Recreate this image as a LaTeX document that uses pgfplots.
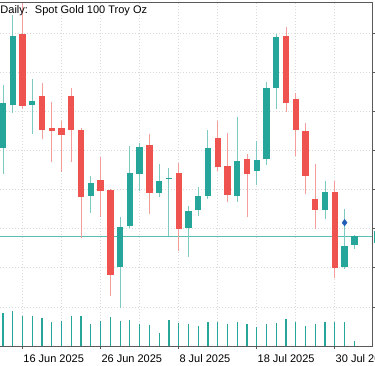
\documentclass[border=0pt]{standalone}
\usepackage{fontspec}
\setmainfont{Liberation Sans}
\usepackage{pgfplots}
\pgfplotsset{compat=1.18}
\usepackage{pgfplotstable}
\definecolor{gcol}{HTML}{26A69A}
\definecolor{rcol}{HTML}{EF5350}
\definecolor{gwick}{HTML}{7CCAC2}
\definecolor{rwick}{HTML}{F49E9C}
\definecolor{bidcol}{HTML}{5CBDB3}
\definecolor{gridcol}{HTML}{D9D9D9}
\definecolor{framecol}{HTML}{5A5A5A}
\definecolor{markblue}{HTML}{1F5FB8}

\pgfplotstableread{
i o h l c
0 3376.83 3416.92 3359.81 3405.22
1 3404.13 3461.69 3398.82 3448.26
3 3404.32 3420.76 3385.59 3406.88
9 3346.13 3358.73 3334.87 3354.06
12 3300.72 3332.70 3274.12 3326.30
13 3326.75 3378.10 3325.66 3360.45
14 3360.01 3380.02 3349.33 3377.46
16 3347.66 3366.21 3345.49 3355.53
17 3356.81 3363.65 3320.36 3357.64
19 3325.66 3339.73 3306.74 3336.34
20 3336.98 3351.88 3333.15 3345.94
21 3346.13 3388.14 3343.83 3376.44
24 3346.13 3396.27 3341.91 3368.32
26 3361.92 3381.11 3352.97 3368.96
27 3369.60 3419.03 3365.76 3414.81
28 3415.19 3449.34 3401.57 3447.43
33 3336.98 3355.72 3331.04 3348.30
35 3300.72 3337.43 3299.06 3313.96
36 3314.60 3321.00 3312.04 3320.36
}\greendata

\pgfplotstableread{
i o h l c
2 3449.34 3469.36 3401.38 3403.49
4 3410.08 3418.01 3382.20 3388.34
5 3389.61 3406.24 3367.87 3387.70
6 3389.61 3393.90 3361.48 3384.75
7 3410.08 3414.81 3367.87 3388.34
8 3387.95 3389.61 3319.08 3345.11
10 3356.17 3371.07 3332.70 3349.33
11 3349.77 3350.22 3281.99 3295.42
15 3378.55 3385.59 3334.23 3348.05
18 3360.45 3366.85 3310.96 3324.83
22 3383.22 3393.90 3362.12 3364.29
23 3365.12 3386.03 3342.29 3346.58
25 3369.79 3372.80 3332.70 3360.01
29 3448.26 3454.20 3399.85 3405.60
30 3407.78 3411.61 3371.71 3388.14
31 3387.70 3392.81 3347.02 3358.92
32 3344.02 3366.40 3324.64 3336.98
34 3348.69 3355.53 3293.31 3299.70
}\reddata

\pgfplotstableread{
i v
0 32700
1 35000
2 29700
3 30300
4 28300
5 23700
6 25000
7 30300
8 30300
9 22300
10 25000
11 29000
12 25000
13 26000
14 22300
15 21300
16 13300
17 26000
18 23000
19 21700
20 20000
21 24000
22 24300
23 22000
24 23700
25 22300
26 19300
27 22000
28 23000
29 26700
30 23700
31 20000
32 22300
33 23700
34 23700
35 23700
36 5000
}\voldata

\begin{document}
\begin{tikzpicture}[x=1pt,y=1pt]
\useasboundingbox (0,0) rectangle (375,366);
\begin{axis}[
  at={(-3pt,20pt)}, anchor=south west,
  scale only axis, width=375pt, height=344pt,
  xmin=-0.6148, xmax=37.807, ymin=3250, ymax=3470,
  axis line style={framecol, line width=0.8pt},
  xtick={2,10,18,26,34},
  xticklabels={16 Jun 2025, 26 Jun 2025, 8 Jul 2025, 18 Jul 2025, 30 Jul 2025},
  minor xtick={6,14,22,30},
  ytick={3275,3300,3325,3350,3375,3400,3425,3450},
  yticklabels={},
  xtick pos=bottom, ytick pos=right, tick align=outside,
  major tick length=3pt, minor tick length=0pt,
  tick style={framecol, line width=0.8pt},
  xmajorgrids, xminorgrids, ymajorgrids,
  major grid style={gridcol, dash pattern=on 1pt off 2pt, line width=0.8pt},
  minor grid style={gridcol, dash pattern=on 1pt off 2pt, line width=0.8pt},
  xticklabel style={anchor=base west, inner sep=0pt, yshift=-13.7pt, xshift=0.7pt, font=\fontsize{11}{13}\selectfont},
  candle/.style={draw=none, no markers, forget plot,
    error bars/.cd, y dir=both, y explicit, error mark=none,
    error bar style={draw=#1}},
]
% bid line
\addplot[bidcol, line width=0.9pt, no markers, forget plot] coordinates {(-0.7,3320.36) (37.9,3320.36)};
% wicks
\addplot[candle={gwick, line width=1pt}]
  table[x=i, y expr={(\thisrow{h}+\thisrow{l})/2}, y error expr={(\thisrow{h}-\thisrow{l})/2}] \greendata;
\addplot[candle={rwick, line width=1pt}]
  table[x=i, y expr={(\thisrow{h}+\thisrow{l})/2}, y error expr={(\thisrow{h}-\thisrow{l})/2}] \reddata;
% bodies
\addplot[candle={gcol, line width=6.3pt}]
  table[x=i, y expr={(\thisrow{o}+\thisrow{c})/2}, y error expr={max(abs(\thisrow{c}-\thisrow{o})/2,0.35)}] \greendata;
\addplot[candle={rcol, line width=6.3pt}]
  table[x=i, y expr={(\thisrow{o}+\thisrow{c})/2}, y error expr={max(abs(\thisrow{c}-\thisrow{o})/2,0.35)}] \reddata;
% marker
\addplot[only marks, mark=diamond*, mark size=3.3pt, mark options={fill=markblue, draw=markblue}, forget plot] coordinates {(35,3328.86)};
\end{axis}
\begin{axis}[
  at={(-3pt,20pt)}, anchor=south west,
  scale only axis, width=375pt, height=344pt,
  xmin=-0.6148, xmax=37.807, ymin=0, ymax=344000,
  hide axis,
]
\addplot[ycomb, draw=gcol, line width=1.2pt, no markers] table[x=i, y=v] \voldata;
\end{axis}
\node[anchor=base west, inner sep=0pt, font=\fontsize{11}{13}\selectfont] at (0.3,352.7) {Daily:\hspace{7pt}Spot Gold 100 Troy Oz};
\fill[gcol] (373.6,123) rectangle (375,135);
\end{tikzpicture}
\end{document}
